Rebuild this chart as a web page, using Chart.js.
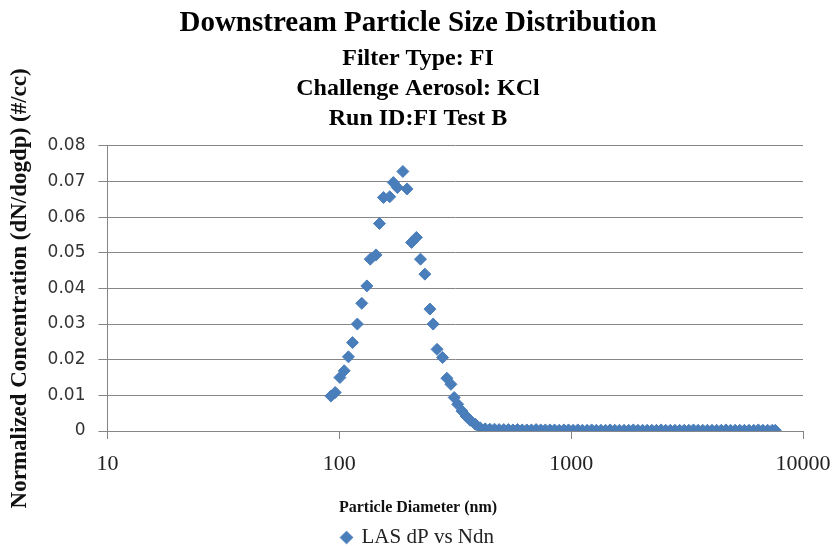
<!DOCTYPE html>
<html>
<head>
<meta charset="utf-8">
<script src="https://cdn.jsdelivr.net/npm/chart.js@4.4.1/dist/chart.umd.min.js"></script>
<style>
  html, body { margin: 0; padding: 0; background: #fff; }
  #wrap { width: 836px; height: 548px; }
</style>
</head>
<body>
<div id="wrap"><canvas id="psdChart" width="836" height="548"></canvas></div>
<script>
// Particle diameters (nm)
const diameters = [
  92, 96, 100.6, 105, 109.5, 114, 119.6, 125, 131.5, 136,
  144, 149, 155, 165, 171, 178, 188, 196, 205, 215,
  224, 234, 246, 254, 264, 279, 291, 303, 313, 324,
  338, 352, 367, 386, 405, 426, 446, 467, 489, 512,
  536, 561, 587, 615, 644, 674, 706, 739, 774, 810,
  848, 888, 930, 974, 1020, 1068, 1118, 1171, 1226, 1284,
  1344, 1407, 1473, 1543, 1615, 1691, 1771, 1854, 1941, 2033,
  2128, 2228, 2333, 2443, 2558, 2678, 2804, 2936, 3074, 3219,
  3370, 3529, 3695, 3869, 4051, 4241, 4441, 4650, 4869, 5098,
  5338, 5589, 5852, 6128, 6416, 6718, 7034, 7365, 7590
];
// Normalized concentration (dN/dlogdp) (#/cc)
const concentrations = [
  0.0098, 0.0108, 0.0150, 0.0169, 0.0208, 0.0248, 0.0300, 0.0358, 0.0407, 0.0482,
  0.0494, 0.0582, 0.0655, 0.0657, 0.0697, 0.0683, 0.0728, 0.0679, 0.0529, 0.0543,
  0.0482, 0.0440, 0.0342, 0.0300, 0.0229, 0.0206, 0.0148, 0.0131, 0.0094, 0.0075,
  0.0056, 0.0042, 0.0030, 0.0019, 0.0009, 0.0006, 0.0005, 0.0005, 0.0004, 0.0004,
  0.0004, 0.0003, 0.0004, 0.0003, 0.0003, 0.0003, 0.0004, 0.0003, 0.0003, 0.0003,
  0.0003, 0.0002, 0.0003, 0.0003, 0.0002, 0.0003, 0.0002, 0.0002, 0.0003, 0.0002,
  0.0002, 0.0002, 0.0003, 0.0002, 0.0002, 0.0002, 0.0002, 0.0003, 0.0002, 0.0002,
  0.0002, 0.0002, 0.0002, 0.0003, 0.0002, 0.0002, 0.0002, 0.0002, 0.0002, 0.0002,
  0.0003, 0.0002, 0.0002, 0.0002, 0.0002, 0.0002, 0.0002, 0.0003, 0.0002, 0.0002,
  0.0002, 0.0002, 0.0002, 0.0002, 0.0003, 0.0002, 0.0002, 0.0002, 0.0002
];

const xTicks = [10, 100, 1000, 10000];
const xTickLabels = ['10', '100', '1000', '10000'];
const yTicks = [0, 0.01, 0.02, 0.03, 0.04, 0.05, 0.06, 0.07, 0.08];
const yTickLabels = ['0', '0.01', '0.02', '0.03', '0.04', '0.05', '0.06', '0.07', '0.08'];

const titleText = 'Downstream Particle Size Distribution';
const subtitleLines = ['Filter Type: FI', 'Challenge Aerosol: KCl', 'Run ID:FI Test B'];
const xAxisTitle = 'Particle Diameter (nm)';
const yAxisTitle = 'Normalized Concentration (dN/dogdp) (#/cc)';
const seriesLabel = 'LAS dP vs Ndn';

const serif = "'Liberation Serif', 'Times New Roman', serif";
const gridColor = '#868686';
const markColor = '#4a7ebb';
const xTitlePad = { top: 9, bottom: 9.4 };

// x title is centred on the whole picture, not on the axis, so draw it here
const centeredXTitle = {
  id: 'centeredXTitle',
  afterDraw(chart) {
    const ctx = chart.ctx;
    const xs = chart.scales.x;
    ctx.save();
    ctx.font = 'bold 16px ' + serif;
    ctx.fillStyle = '#111';
    ctx.textAlign = 'center';
    ctx.textBaseline = 'middle';
    ctx.fillText(xAxisTitle, chart.width / 2, xs.bottom - xTitlePad.bottom - 9.6);
    ctx.restore();
  }
};

const ctx = document.getElementById('psdChart').getContext('2d');
const psdChart = new Chart(ctx, {
  type: 'scatter',
  data: {
    datasets: [{
      label: seriesLabel,
      data: diameters.map((d, i) => ({ x: d, y: concentrations[i] })),
      pointStyle: 'rectRot',
      pointRadius: 6,
      pointHoverRadius: 6,
      borderWidth: 1,
      backgroundColor: markColor,
      borderColor: markColor
    }]
  },
  options: {
    responsive: false,
    animation: false,
    devicePixelRatio: 1,
    layout: { padding: { left: 0, right: 0, top: 0, bottom: -10 } },
    scales: {
      x: {
        type: 'logarithmic',
        min: 10,
        max: 10000,
        afterBuildTicks: axis => { axis.ticks = xTicks.map(v => ({ value: v })); },
        // let the last label run closer to the right edge, as in the original
        afterFit: axis => { axis.paddingRight = Math.max(axis.paddingRight - 6.5, 0); },
        ticks: {
          autoSkip: false,
          maxRotation: 0,
          padding: 12,
          color: '#222',
          font: { family: serif, size: 22 },
          callback: (v, i) => xTickLabels[i]
        },
        grid: { drawOnChartArea: false, tickLength: 8, color: gridColor },
        border: { color: gridColor },
        title: {
          display: true,
          text: xAxisTitle,
          color: 'rgba(0,0,0,0)',
          font: { family: serif, size: 16, weight: 'bold' },
          padding: xTitlePad
        }
      },
      y: {
        min: 0,
        max: 0.08,
        afterBuildTicks: axis => { axis.ticks = yTicks.map(v => ({ value: v })); },
        ticks: {
          padding: 13,
          color: '#333',
          font: { family: "'DejaVu Sans', sans-serif", size: 17 },
          callback: (v, i) => yTickLabels[i]
        },
        grid: { color: gridColor, tickLength: 9 },
        border: { color: gridColor },
        title: {
          display: true,
          text: yAxisTitle,
          color: '#111',
          font: { family: serif, size: 23, weight: 'bold' },
          padding: { top: 6, bottom: 1 }
        }
      }
    },
    plugins: {
      title: {
        display: true,
        text: titleText,
        color: '#000',
        font: { family: serif, size: 29, weight: 'bold', lineHeight: 1.2 },
        padding: { top: 6, bottom: 0 }
      },
      subtitle: {
        display: true,
        text: subtitleLines,
        color: '#000',
        font: { family: serif, size: 24, weight: 'bold', lineHeight: 1.25 },
        padding: { top: 3, bottom: 12 }
      },
      legend: {
        position: 'bottom',
        labels: {
          usePointStyle: true,
          pointStyle: 'rectRot',
          boxWidth: 9,
          boxHeight: 9,
          padding: 0,
          color: '#222',
          font: { family: serif, size: 21 }
        }
      },
      tooltip: { enabled: false }
    }
  },
  plugins: [centeredXTitle]
});
</script>
</body>
</html>
